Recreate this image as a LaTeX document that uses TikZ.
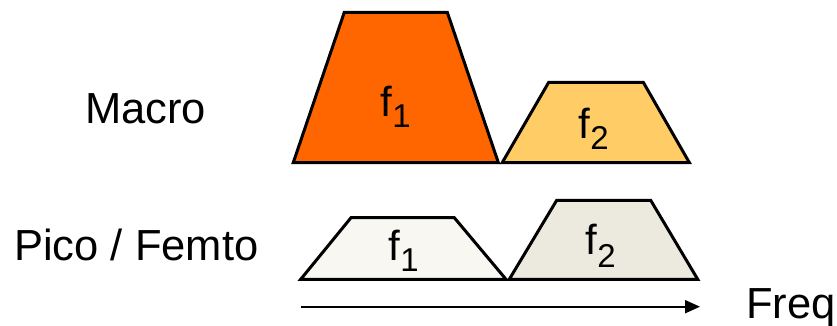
\documentclass[tikz,border=0pt]{standalone}
\usepackage{fontspec}
\setmainfont{Liberation Sans}
\usetikzlibrary{arrows.meta}
\definecolor{macroA}{RGB}{255,102,0}
\definecolor{macroB}{RGB}{255,204,102}
\definecolor{picoA}{RGB}{248,247,242}
\definecolor{picoB}{RGB}{236,233,222}
\newcommand\flabel[2]{{\fontsize{42}{42}\selectfont f}\raisebox{-#2}{\fontsize{33}{33}\selectfont #1}}
\begin{document}
\begin{tikzpicture}[x=1pt,y=1pt,
  band/.style={draw=black,line width=3pt,line join=miter},
  lbl/.style={inner sep=0pt,anchor=base west,font=\fontsize{43.5}{43.5}\selectfont},
  flbl/.style={inner sep=0pt,anchor=base west}]
\useasboundingbox (0,0) rectangle (837,325);
% Macro
\draw[band,fill=macroA] (293.3,162.5) -- (498.3,162.5) -- (447.3,312.7) -- (344.3,312.7) -- cycle;
\draw[band,fill=macroB] (502.3,162.5) -- (689.3,162.5) -- (643.3,242.7) -- (548.7,242.7) -- cycle;
% Pico / Femto
\draw[band,fill=picoA] (300.7,45.7) -- (506,45.7) -- (454.3,107.3) -- (351,107.3) -- cycle;
\draw[band,fill=picoB] (509.3,45.7) -- (697.7,45.7) -- (650.7,124.7) -- (556.7,124.7) -- cycle;
% labels
\node[flbl] (mf1) at (380.5,208.3) {\flabel{1}{11pt}};
\node[flbl] (mf2) at (578.5,186.7) {\flabel{2}{11pt}};
\node[flbl] (pf1) at (388.5,64.3) {\flabel{1}{11pt}};
\node[flbl] (pf2) at (585.5,71) {\flabel{2}{13pt}};
\node[lbl] (macro) at (85,202) {Macro};
\node[lbl] (pico) at (14,65) {Pico / Femto};
\node[lbl] (freq) at (746,6.7) {Freq};
% axis
\coordinate (axs) at (300.7,18.3);
\coordinate (axe) at (700,18.3);
\draw[line width=2pt,-{Triangle[length=15pt,width=13pt]}] (axs) -- (axe);
\end{tikzpicture}
\end{document}
